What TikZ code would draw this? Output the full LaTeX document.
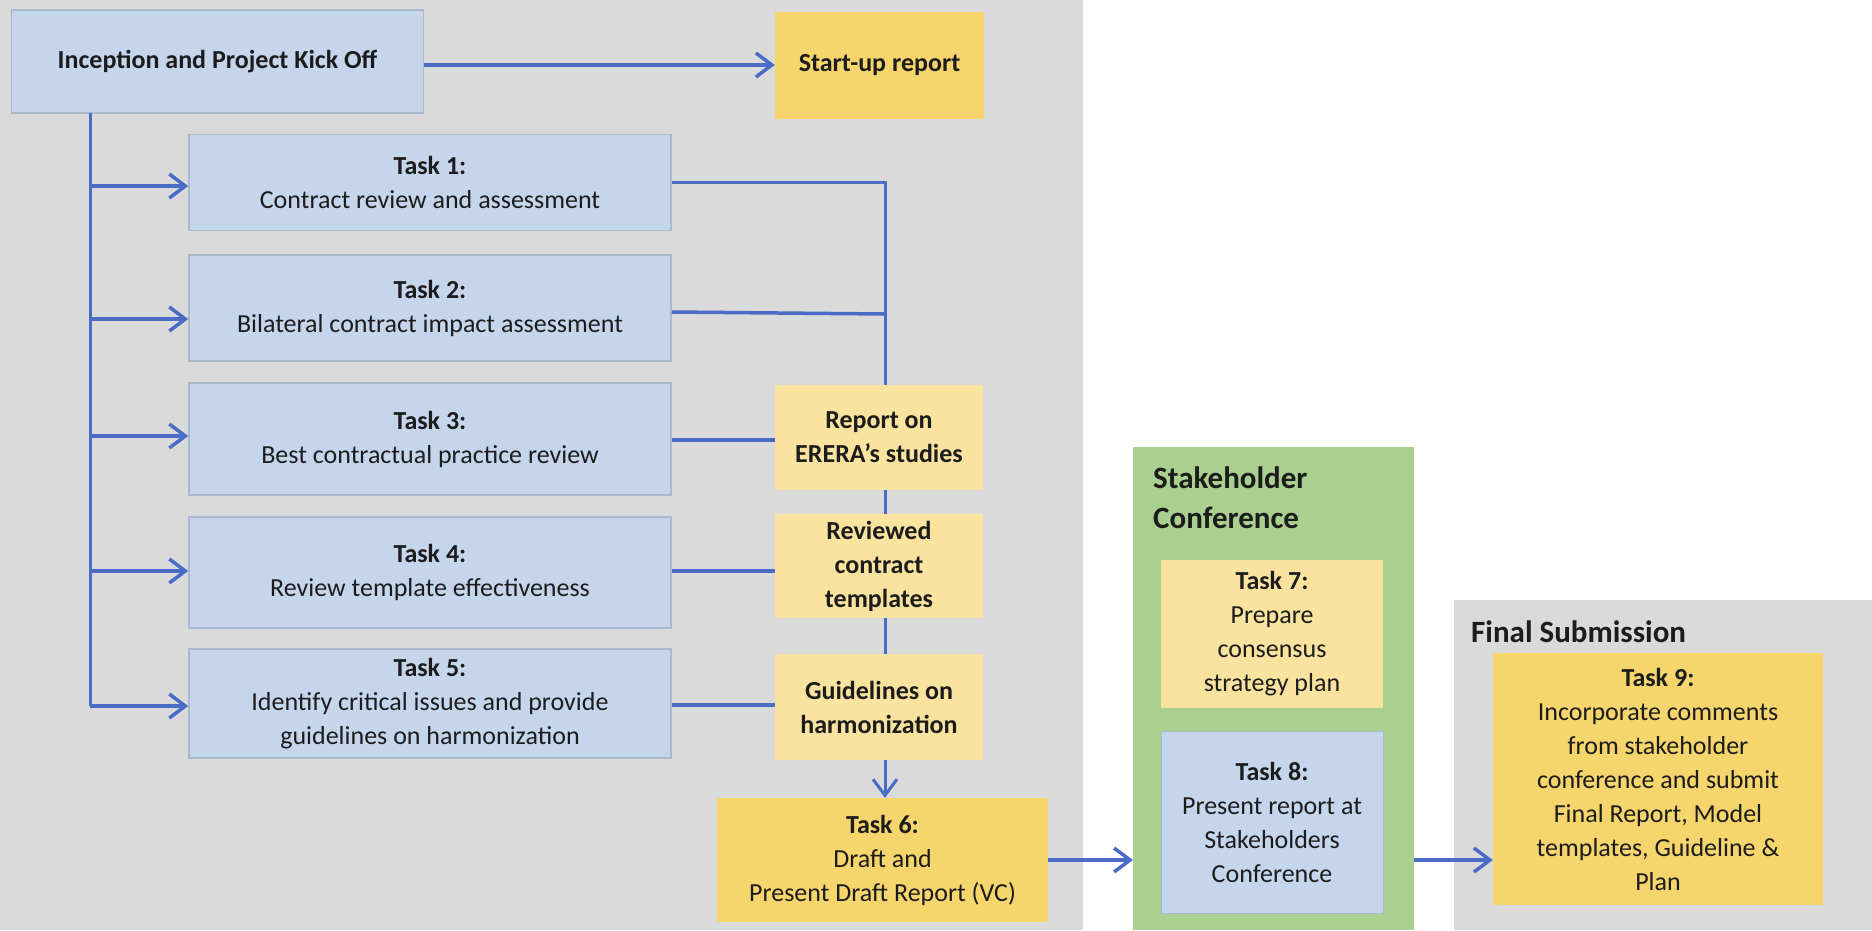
\documentclass[tikz,border=0pt]{standalone}
\usepackage{fontspec}
\setmainfont{Carlito}
\usetikzlibrary{arrows.meta}
\definecolor{panelgray}{HTML}{DADADA}
\definecolor{boxblue}{HTML}{C5D6EC}
\definecolor{blueedge}{HTML}{A9B8CC}
\definecolor{lightyellow}{HTML}{FAE39E}
\definecolor{darkyellow}{HTML}{F5D56C}
\definecolor{stkgreen}{HTML}{A9D08E}
\definecolor{linkblue}{HTML}{4A6CC6}
\definecolor{inkdark}{HTML}{1C1C1C}
\tikzset{
  basebox/.style={inner sep=0pt, align=center, text=inkdark, font=\fontsize{26}{34}\selectfont},
  bluebox/.style={basebox, fill=boxblue, draw=blueedge, line width=1.5pt},
  lybox/.style={basebox, fill=lightyellow, font=\fontsize{26}{34}\selectfont\bfseries},
  dybox/.style={basebox, fill=darkyellow},
  paneltitle/.style={inner sep=0pt, align=left, anchor=west, text=inkdark, font=\fontsize{31}{40}\selectfont\bfseries},
  link/.style={draw=linkblue, line width=3.5pt},
  arrowlink/.style={link, -{Straight Barb[length=16pt,width=24pt]}},
}
\begin{document}
\begin{tikzpicture}[x=1pt,y=-1pt]
\useasboundingbox (0,0) rectangle (1872,930);
\fill[white] (0,0) rectangle (1872,930);
% panels
\fill[panelgray] (0,0) rectangle (1083,930);
\fill[stkgreen] (1133,447) rectangle (1414,930);
\fill[panelgray] (1454,600) rectangle (1872,930);
% nodes
\node[bluebox, minimum width=412pt, minimum height=103pt, font=\fontsize{26}{34}\selectfont\bfseries] (inc) at (217.5,61.5) {Inception and Project Kick Off};
\node[dybox, minimum width=209pt, minimum height=107pt, font=\fontsize{26}{34}\selectfont\bfseries] (start) at (879.5,65.5) {Start-up report};
\node[bluebox, minimum width=482pt, minimum height=96pt] (t1) at (430,182.5) {\textbf{Task 1:}\\Contract review and assessment};
\node[bluebox, minimum width=482pt, minimum height=106pt] (t2) at (430,308) {\textbf{Task 2:}\\Bilateral contract impact assessment};
\node[bluebox, minimum width=482pt, minimum height=112pt] (t3) at (430,439) {\textbf{Task 3:}\\Best contractual practice review};
\node[bluebox, minimum width=482pt, minimum height=111pt] (t4) at (430,572.5) {\textbf{Task 4:}\\Review template effectiveness};
\node[bluebox, minimum width=482pt, minimum height=109pt] (t5) at (430,703.5) {\textbf{Task 5:}\\Identify critical issues and provide\\guidelines on harmonization};
\node[lybox, minimum width=208pt, minimum height=105pt] (rep) at (879,437.5) {Report on\\ERERA’s studies};
\node[lybox, minimum width=208pt, minimum height=104pt] (rev) at (879,566) {Reviewed\\contract\\templates};
\node[lybox, minimum width=208pt, minimum height=106pt] (gui) at (879,707) {Guidelines on\\harmonization};
\node[dybox, minimum width=331pt, minimum height=124pt] (t6) at (882.5,860) {\textbf{Task 6:}\\Draft and\\Present Draft Report (VC)};
\node[paneltitle] (stk) at (1153,498) {Stakeholder\\Conference};
\node[basebox, fill=lightyellow, minimum width=222pt, minimum height=148pt] (t7) at (1272,634) {\textbf{Task 7:}\\Prepare\\consensus\\strategy plan};
\node[basebox, fill=boxblue, draw=blueedge, line width=1pt, minimum width=222pt, minimum height=182pt] (t8) at (1272,822) {\textbf{Task 8:}\\Present report at\\Stakeholders\\Conference};
\node[paneltitle] (fin) at (1471,632) {Final Submission};
\node[dybox, minimum width=330pt, minimum height=252pt] (t9) at (1658,779) {\textbf{Task 9:}\\Incorporate comments\\from stakeholder\\conference and submit\\Final Report, Model\\templates, Guideline \&\\Plan};
\coordinate (green) at (1133,860);
\coordinate (greenout) at (1414,860);
% connectors
\draw[arrowlink] (inc.east |- 0,65) -- (start.west |- 0,65);
\coordinate (ttop) at (90,113);
\coordinate (tbot) at (90,706);
\draw[link, line width=3pt] (ttop) -- (tbot);
\draw[arrowlink] (ttop |- 0,186) -- (t1.west |- 0,186);
\draw[arrowlink] (ttop |- 0,319) -- (t2.west |- 0,319);
\draw[arrowlink] (ttop |- 0,436) -- (t3.west |- 0,436);
\draw[arrowlink] (ttop |- 0,571) -- (t4.west |- 0,571);
\draw[arrowlink] (tbot) -- (t5.west |- tbot);
\coordinate (vx) at (885,182);
\draw[link, line width=3pt] (t1.east |- vx) -- (vx) -- (vx |- rep.north);
\draw[link] (t2.east |- 0,312) -- (vx |- 0,314);
\draw[link] (t3.east |- 0,440) -- (rep.west |- 0,440);
\draw[link] (t4.east |- 0,571) -- (rev.west |- 0,571);
\draw[link] (t5.east |- 0,705) -- (gui.west |- 0,705);
\draw[link, line width=3pt] (vx |- rep.south) -- (vx |- rev.north);
\draw[link, line width=3pt] (vx |- rev.south) -- (vx |- gui.north);
\draw[arrowlink, line width=3pt] (vx |- gui.south) -- (vx |- t6.north);
\draw[arrowlink] (t6.east |- green) -- (green);
\draw[arrowlink] (greenout) -- (t9.west |- greenout);
\end{tikzpicture}
\end{document}
